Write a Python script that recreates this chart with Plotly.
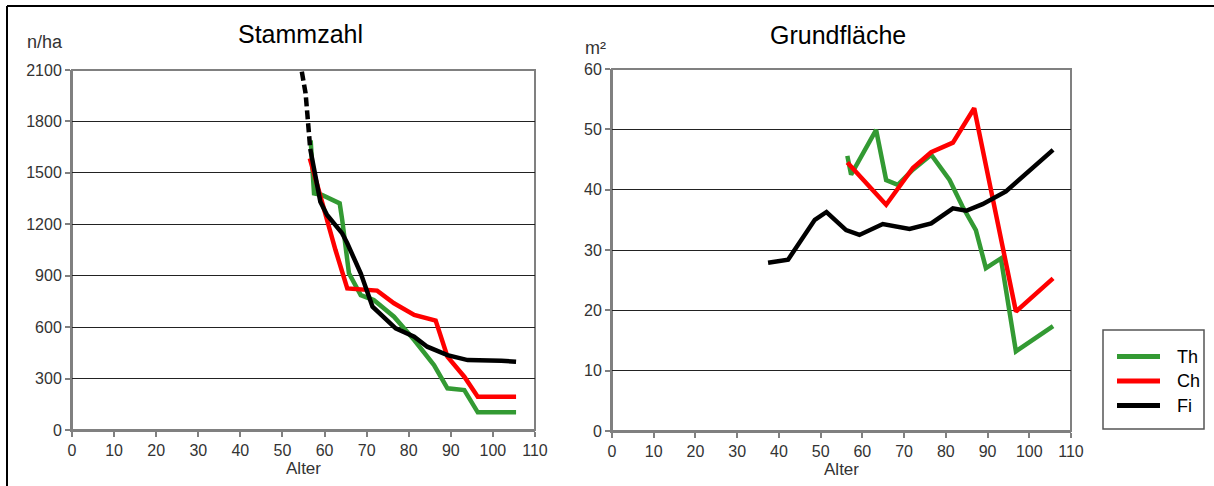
import plotly.graph_objects as go

W, H = 1214, 486

# Stammzahl (n/ha) by Alter
th_n_age = [56.7, 57.5, 59.4, 63.6, 64.2, 65.8, 68.6, 71.7, 76.5, 81.3, 86.0, 89.2, 93.2, 96.4, 105.5]
th_n_val = [1690, 1380, 1371, 1322, 1225, 914, 787, 758, 661, 525, 379, 243, 233, 103, 103]
ch_n_age = [56.5, 59.8, 62.6, 65.4, 69.0, 72.5, 76.5, 81.3, 86.4, 89.2, 93.2, 96.4, 105.5]
ch_n_val = [1585, 1283, 1050, 826, 820, 813, 739, 671, 638, 428, 311, 194, 194]
fi_n_age = [56.6, 59.0, 60.6, 64.2, 65.4, 68.6, 71.4, 76.9, 81.3, 84.4, 89.2, 94.0, 102.0, 105.5]
fi_n_val = [1640, 1332, 1254, 1147, 1089, 914, 719, 593, 544, 486, 437, 408, 404, 398]
fi_n_dash_age = [54.6, 55.5, 55.9, 56.6]
fi_n_dash_val = [2090, 1964, 1847, 1640]

# Grundfläche (m²) by Alter
th_g_age = [56.4, 57.3, 63.3, 65.7, 68.5, 72.1, 76.5, 80.9, 84.0, 87.2, 89.6, 93.2, 96.8, 105.7]
th_g_val = [45.6, 42.5, 49.9, 41.6, 40.8, 43.3, 45.8, 41.6, 37.2, 33.3, 27.0, 28.6, 13.2, 17.4]
ch_g_age = [56.4, 65.7, 72.1, 76.5, 81.7, 86.8, 96.8, 105.7]
ch_g_val = [44.5, 37.5, 43.6, 46.2, 47.8, 53.5, 19.8, 25.3]
fi_g_age = [37.4, 42.2, 48.6, 51.4, 56.1, 59.3, 64.9, 71.3, 76.5, 81.7, 84.9, 88.8, 94.4, 99.2, 105.7]
fi_g_val = [27.9, 28.4, 35.0, 36.3, 33.3, 32.5, 34.3, 33.5, 34.4, 36.9, 36.5, 37.6, 39.7, 42.7, 46.6]

x_ticks = list(range(0, 111, 10))
n_ticks = list(range(0, 2101, 300))
g_ticks = list(range(0, 61, 10))

series_names = ["Th", "Ch", "Fi"]

GREEN = "#339a33"
RED = "#ff0000"
BLACK = "#000000"
series_colors = [GREEN, RED, BLACK]
LW = 4.5
FONT = "Liberation Sans, Arial"

fig = go.Figure()
fig.add_trace(go.Scatter(x=th_n_age, y=th_n_val, mode="lines", line=dict(color=GREEN, width=LW),
                         name="Th", xaxis="x", yaxis="y"))
fig.add_trace(go.Scatter(x=ch_n_age, y=ch_n_val, mode="lines", line=dict(color=RED, width=LW),
                         name="Ch", xaxis="x", yaxis="y"))
fig.add_trace(go.Scatter(x=fi_n_age, y=fi_n_val, mode="lines", line=dict(color=BLACK, width=LW),
                         name="Fi", xaxis="x", yaxis="y"))
fig.add_trace(go.Scatter(x=fi_n_dash_age, y=fi_n_dash_val, mode="lines",
                         line=dict(color=BLACK, width=LW, dash="9px,4px"),
                         name="Fi", xaxis="x", yaxis="y"))
fig.add_trace(go.Scatter(x=th_g_age, y=th_g_val, mode="lines", line=dict(color=GREEN, width=LW),
                         name="Th", xaxis="x2", yaxis="y2"))
fig.add_trace(go.Scatter(x=ch_g_age, y=ch_g_val, mode="lines", line=dict(color=RED, width=LW),
                         name="Ch", xaxis="x2", yaxis="y2"))
fig.add_trace(go.Scatter(x=fi_g_age, y=fi_g_val, mode="lines", line=dict(color=BLACK, width=LW),
                         name="Fi", xaxis="x2", yaxis="y2"))


def px_x(p):
    return p / W


def px_y(p):
    return 1 - p / H


tickfont = dict(family=FONT, size=16, color="#333333")
axis_common = dict(showline=True, linecolor="#808080", linewidth=2, ticks="outside",
                   ticklen=5, tickcolor="#808080", tickwidth=1.5,
                   tickfont=tickfont, zeroline=False, fixedrange=True, automargin=False)
xtitle = dict(text="Alter", font=dict(family=FONT, size=17, color="#333333"), standoff=3)

fig.update_layout(
    width=W, height=H,
    margin=dict(l=0, r=0, t=0, b=0, autoexpand=False),
    paper_bgcolor="white", plot_bgcolor="white",
    font=dict(family=FONT, color="#222222"),
    showlegend=False,
    xaxis=dict(domain=[px_x(72), px_x(535)], range=[0, 110], tickvals=x_ticks,
               showgrid=False, anchor="y", title=xtitle, **axis_common),
    yaxis=dict(domain=[px_y(430), px_y(70)], range=[0, 2100], tickvals=n_ticks,
               showgrid=True, gridcolor="#222222", gridwidth=1, anchor="x",
               **axis_common),
    xaxis2=dict(domain=[px_x(612), px_x(1071)], range=[0, 110], tickvals=x_ticks,
                showgrid=False, anchor="y2", title=xtitle, **axis_common),
    yaxis2=dict(domain=[px_y(431), px_y(69)], range=[0, 60], tickvals=g_ticks,
                showgrid=True, gridcolor="#222222", gridwidth=1, anchor="x2",
                **axis_common),
)

# plot-area frames (top and right edges)
for xa, ya in (("x", "y"), ("x2", "y2")):
    fig.add_shape(type="rect", xref=f"{xa} domain", yref=f"{ya} domain",
                  x0=0, x1=1, y0=0, y1=1, line=dict(color="#808080", width=2), layer="below")

# outer border of the whole chart (only top and left edges are visible)
fig.add_shape(type="line", xref="paper", yref="paper", x0=px_x(7), x1=1, y0=px_y(6), y1=px_y(6),
              line=dict(color="black", width=2))
fig.add_shape(type="line", xref="paper", yref="paper", x0=px_x(7), x1=px_x(7), y0=0, y1=px_y(6),
              line=dict(color="black", width=2))

# legend (drawn by hand to match the boxed Excel-style legend)
fig.add_shape(type="rect", xref="paper", yref="paper",
              x0=px_x(1103), x1=px_x(1204), y0=px_y(429), y1=px_y(330),
              line=dict(color="#555555", width=1.5), fillcolor="white")
for i, (name, col) in enumerate(zip(series_names, series_colors)):
    yy = 356.5 + 24.5 * i
    fig.add_shape(type="line", xref="paper", yref="paper",
                  x0=px_x(1117), x1=px_x(1160), y0=px_y(yy), y1=px_y(yy),
                  line=dict(color=col, width=5))
    fig.add_annotation(text=name, x=px_x(1175), y=px_y(yy), xref="paper", yref="paper",
                       showarrow=False, xanchor="left", yanchor="middle",
                       font=dict(family=FONT, size=18, color="#000000"))

ann = [
    dict(text="Stammzahl", x=px_x(300), y=px_y(34), size=25, color="#000000"),
    dict(text="Grundfläche", x=px_x(838), y=px_y(35), size=25, color="#000000"),
    dict(text="n/ha", x=px_x(45), y=px_y(42), size=18, color="#333333"),
    dict(text="m²", x=px_x(595), y=px_y(48), size=18, color="#333333"),
]
for a in ann:
    fig.add_annotation(text=a["text"], x=a["x"], y=a["y"], xref="paper", yref="paper",
                       showarrow=False, xanchor="center", yanchor="middle",
                       font=dict(family=FONT, size=a["size"], color=a["color"]))

fig.write_html("out.html")
